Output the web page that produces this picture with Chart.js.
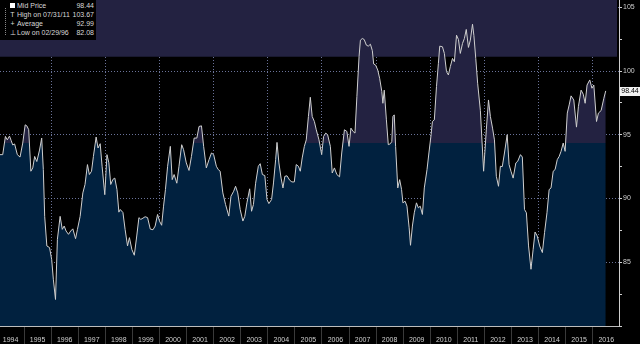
<!DOCTYPE html>
<html>
<head>
<meta charset="utf-8">
<script src="https://cdn.jsdelivr.net/npm/chart.js@4"></script>
<style>
  body { margin: 0; background: #000; }
  #wrap { position: relative; width: 640px; height: 344px; }
  canvas { background: #000; }
  #legend {
    position: absolute; left: 0; top: 0; width: 96px; height: 40px;
    background: #000; color: #d8d8d8;
    font: 7px "Liberation Sans", Arial, sans-serif;
  }
  #legend .row { position: absolute; left: 17px; width: 77px; height: 9px; line-height: 9px; color: #d8d8d8; }
  #legend .row span { position: absolute; right: 0; }
  #legend .ico { position: absolute; left: 9px; width: 7px; line-height: 9px; text-align: center; color: #d8d8d8; }
  #legend .sq { position: absolute; left: 10px; top: 3px; width: 5px; height: 5px; background: #fff; }
  #legend .tree { position: absolute; left: 5px; top: 8px; height: 27px; border-left: 1px dotted #888; }
</style>
</head>
<body>
<div id="wrap">
  <canvas id="chart" width="640" height="344"></canvas>
  <div id="legend">
    <div class="tree"></div>
    <div class="sq"></div>
    <div class="row" style="top:1px">Mid Price<span>98.44</span></div>
    <div class="ico" style="top:10px">T</div>
    <div class="row" style="top:10px">High on 07/31/11<span>103.67</span></div>
    <div class="ico" style="top:19px">+</div>
    <div class="row" style="top:19px">Average<span>92.99</span></div>
    <div class="ico" style="top:28px">⊥</div>
    <div class="row" style="top:28px">Low on 02/29/96<span>82.08</span></div>
  </div>
</div>
<script>
// Dates (decimal years) and mid prices
const dates = [
  1994.11, 1994.21, 1994.31, 1994.38, 1994.46, 1994.52, 1994.58, 1994.65, 1994.75, 1994.85,
  1994.95, 1995.04, 1995.10, 1995.17, 1995.25, 1995.32, 1995.39, 1995.47, 1995.57, 1995.65,
  1995.71, 1995.76, 1995.84, 1995.94, 1996.02, 1996.08, 1996.16, 1996.23, 1996.33, 1996.41,
  1996.48, 1996.55, 1996.64, 1996.72, 1996.80, 1996.90, 1996.97, 1997.07, 1997.17, 1997.25,
  1997.34, 1997.41, 1997.49, 1997.56, 1997.66, 1997.73, 1997.81, 1997.88, 1997.98, 1998.06,
  1998.13, 1998.20, 1998.28, 1998.35, 1998.43, 1998.50,
  1998.55, 1998.65, 1998.73, 1998.82, 1998.89, 1998.98, 1999.07, 1999.16, 1999.24, 1999.31,
  1999.39, 1999.47, 1999.56, 1999.66, 1999.76, 1999.84, 1999.93, 2000.00, 2000.08, 2000.15,
  2000.22, 2000.30, 2000.40, 2000.47, 2000.54, 2000.64, 2000.72, 2000.82, 2000.89, 2000.99,
  2001.09, 2001.18, 2001.28, 2001.38, 2001.46, 2001.55, 2001.63, 2001.73, 2001.83, 2001.92,
  2002.00, 2002.10, 2002.17, 2002.24, 2002.34, 2002.44, 2002.56, 2002.64, 2002.74, 2002.81,
  2002.89,
  2002.98, 2003.08, 2003.15, 2003.23, 2003.33, 2003.40, 2003.47, 2003.55, 2003.65, 2003.72,
  2003.80, 2003.89, 2003.97, 2004.04, 2004.14, 2004.21, 2004.29, 2004.34, 2004.41, 2004.49,
  2004.56, 2004.63, 2004.71, 2004.81, 2004.89, 2004.98, 2005.05, 2005.13, 2005.20, 2005.27,
  2005.35, 2005.42, 2005.50, 2005.57, 2005.64, 2005.72, 2005.79, 2005.89, 2005.99, 2006.06,
  2006.14, 2006.21, 2006.31, 2006.38, 2006.46, 2006.55, 2006.65, 2006.73, 2006.83, 2006.92,
  2007.00, 2007.07, 2007.15, 2007.22, 2007.29, 2007.37,
  2007.42, 2007.49, 2007.56, 2007.64, 2007.71, 2007.79, 2007.86, 2007.91, 2007.98, 2008.06,
  2008.13, 2008.21, 2008.25, 2008.30, 2008.38, 2008.45, 2008.53, 2008.58, 2008.62, 2008.67,
  2008.72, 2008.80, 2008.87, 2008.94, 2008.99, 2009.07, 2009.14, 2009.22, 2009.27, 2009.34,
  2009.41, 2009.49, 2009.56, 2009.63, 2009.71, 2009.78, 2009.88, 2009.95, 2010.03, 2010.08,
  2010.15, 2010.23, 2010.30, 2010.35, 2010.45, 2010.52, 2010.60, 2010.67, 2010.74, 2010.82,
  2010.89, 2010.97, 2011.04, 2011.11, 2011.19, 2011.26, 2011.33, 2011.41, 2011.48, 2011.56,
  2011.61, 2011.68, 2011.75,
  2011.85, 2011.97, 2012.07, 2012.15, 2012.22, 2012.30, 2012.37, 2012.44, 2012.52, 2012.59,
  2012.66, 2012.74, 2012.84, 2012.91, 2012.98, 2013.06, 2013.16, 2013.23, 2013.33, 2013.40,
  2013.48, 2013.55, 2013.63, 2013.72, 2013.80, 2013.87, 2013.95, 2014.04, 2014.14, 2014.22,
  2014.31, 2014.39, 2014.46, 2014.54, 2014.61, 2014.69, 2014.76, 2014.83, 2014.91, 2014.98,
  2015.06, 2015.13, 2015.20, 2015.30, 2015.40, 2015.47, 2015.57, 2015.65, 2015.72, 2015.79,
  2015.89, 2015.97, 2016.04, 2016.14, 2016.21, 2016.31, 2016.41, 2016.48
];
const prices = [
  93.44, 93.44, 94.87, 94.60, 94.90, 94.56, 94.20, 94.28, 93.44, 93.25,
  94.35, 95.78, 95.70, 95.40, 92.14, 92.40, 93.30, 92.90, 93.80, 94.74,
  92.27, 88.60, 86.28, 86.15, 85.20, 83.67, 82.08, 86.80, 88.60, 87.58,
  87.84, 87.45, 87.19, 87.45, 87.62, 86.85, 87.58, 88.60, 90.44, 91.10,
  92.66, 91.88, 92.14, 93.30, 94.82, 93.96, 94.30, 92.53, 90.30, 93.44,
  92.80, 91.10, 91.50, 91.60, 90.70, 88.93,
  89.14, 88.90, 87.58, 86.28, 86.93, 86.00, 85.55, 87.06, 88.50, 88.36,
  88.46, 88.57, 88.50, 87.60, 87.55, 87.84, 88.75, 88.23, 87.90, 89.40,
  90.70, 92.53, 94.09, 91.48, 91.88, 91.20, 92.53, 94.22, 93.83, 92.79,
  92.20, 93.30, 94.74, 94.74, 95.65, 95.70, 94.09, 92.40, 93.05, 93.57,
  93.44, 92.53, 92.27, 92.14, 90.44, 89.53, 88.62, 90.18, 90.57, 90.96,
  90.44,
  89.14, 88.23, 88.60, 89.66, 90.76, 89.00, 89.53, 91.20, 92.53, 92.73,
  91.88, 91.80, 89.92, 89.60, 89.92, 91.22, 93.05, 94.40, 92.79, 91.60,
  90.83, 91.74, 91.78, 91.43, 91.30, 91.30, 92.66, 92.53, 92.14, 93.18,
  94.09, 94.60, 96.43, 97.94, 96.43, 96.04, 95.39, 94.60, 93.44, 94.87,
  95.13, 95.00, 94.09, 92.00, 92.40, 91.88, 91.70, 93.57, 95.39, 95.26,
  94.09, 95.52, 95.26, 95.13, 97.99, 101.12,
  102.42, 102.55, 102.47, 102.03, 101.95, 102.10, 101.60, 100.55, 100.47, 100.08,
  99.43, 98.39, 97.47, 98.50, 96.17, 94.22, 94.30, 94.48, 96.43, 96.56,
  94.09, 90.83, 91.48, 90.70, 89.66, 89.79, 89.40, 87.70, 86.33, 87.84,
  88.88, 89.66, 89.27, 89.40, 88.75, 90.83, 92.27, 93.57, 95.00, 96.04,
  96.17, 98.78, 100.60, 101.95, 101.90, 101.38, 99.95, 99.69, 100.34, 100.99,
  100.73, 102.81, 102.47, 101.38, 102.16, 102.55, 103.26, 101.85, 102.42, 103.67,
  102.80, 100.99, 99.04,
  96.90, 92.14, 95.39, 97.73, 96.43, 95.52, 94.60, 91.74, 90.96, 92.53,
  92.50, 93.57, 95.00, 92.66, 92.14, 91.60, 92.79, 92.92, 93.44, 93.25,
  89.14, 88.88, 86.28, 84.45, 86.02, 87.37, 87.06, 86.28, 85.76, 87.32,
  88.88, 90.70, 90.83, 92.14, 92.27, 93.05, 93.30, 93.70, 94.35, 93.70,
  96.70, 97.34, 98.05, 97.73, 95.60, 97.20, 98.50, 98.18, 97.47, 98.90,
  99.30, 98.65, 98.90, 96.04, 96.70, 96.90, 97.86, 98.44
];

// Year tick labels along the bottom
const years = [];
for (let y = 1994; y <= 2016; y++) years.push(y);

// Price ticks on the right axis (labels only on multiples of 5)
const priceTicks = [80, 82.5, 85, 87.5, 90, 92.5, 95, 97.5, 100, 102.5, 105];

// Shading levels
const upperBand = 101.12;   // shaded band above this level
const fillSplit = 94.33;    // area colour changes above this level

const navy = '#01213f';
const purple = '#232241';
const gridColor = 'rgba(125,135,180,0.85)';

// Top shaded band drawn behind the line
const bandPlugin = {
    id: 'band',
    beforeDatasetsDraw(chart) {
        const { ctx, chartArea, scales } = chart;
        const yb = scales.y.getPixelForValue(upperBand);
        ctx.save();
        ctx.fillStyle = purple;
        ctx.fillRect(chartArea.left, chartArea.top, chartArea.right - chartArea.left - 2, yb - chartArea.top);
        ctx.restore();
    }
};

// Last value tag on the right axis
const lastTagPlugin = {
    id: 'lastTag',
    afterDraw(chart) {
        const { ctx, chartArea, scales } = chart;
        const v = prices[prices.length - 1];
        const y = Math.round(scales.y.getPixelForValue(v));
        ctx.save();
        ctx.fillStyle = '#f2f2f2';
        ctx.fillRect(chartArea.right + 1, y - 4, 20, 9);
        ctx.fillStyle = '#000';
        ctx.font = '7px "Liberation Sans", Arial, sans-serif';
        ctx.textBaseline = 'middle';
        ctx.textAlign = 'center';
        ctx.fillText(v.toFixed(2), chartArea.right + 11, y + 0.5);
        ctx.restore();
    }
};

const ctx = document.getElementById('chart').getContext('2d');
new Chart(ctx, {
    type: 'line',
    data: {
        datasets: [{
            label: 'Mid Price',
            data: dates.map((d, i) => ({ x: d, y: prices[i] })),
            borderColor: '#cfcfcf',
            borderWidth: 1,
            pointRadius: 0,
            tension: 0,
            fill: 'start',
            backgroundColor: function (context) {
                const chart = context.chart;
                const { chartArea, scales } = chart;
                if (!chartArea) return navy;
                const yPix = scales.y.getPixelForValue(fillSplit);
                const g = chart.ctx.createLinearGradient(0, chartArea.bottom, 0, chartArea.top);
                const stop = (chartArea.bottom - yPix) / (chartArea.bottom - chartArea.top);
                g.addColorStop(0, navy);
                g.addColorStop(stop, navy);
                g.addColorStop(stop, purple);
                g.addColorStop(1, purple);
                return g;
            }
        }]
    },
    options: {
        responsive: false,
        animation: false,
        layout: { padding: 0 },
        plugins: {
            legend: { display: false },
            tooltip: { enabled: false }
        },
        scales: {
            x: {
                type: 'linear',
                min: 1994.11,
                max: 2016.97,
                z: 1,
                afterBuildTicks: axis => { axis.ticks = years.map(v => ({ value: v })); },
                afterFit: axis => { axis.height = 18; axis.paddingLeft = 0; axis.paddingRight = 0; },
                border: { display: true, color: '#bdbdbd', width: 1, dash: [1, 2] },
                grid: {
                    color: c => (c.tick && c.tick.value % 2 === 0) ? gridColor : 'rgba(0,0,0,0)',
                    drawTicks: true,
                    tickLength: 18,
                    tickColor: '#3a3a3a',
                    tickBorderDash: []
                },
                ticks: {
                    color: '#cfcfcf',
                    font: { family: '"Liberation Sans", Arial, sans-serif', size: 7 },
                    maxRotation: 0,
                    autoSkip: false,
                    labelOffset: 13.5,
                    padding: -8,
                    callback: v => String(v)
                }
            },
            y: {
                position: 'right',
                min: 80,
                max: 105.57,
                z: 1,
                afterBuildTicks: axis => { axis.ticks = priceTicks.map(v => ({ value: v })); },
                afterFit: axis => { axis.width = 21; axis.paddingTop = 0; axis.paddingBottom = 0; },
                border: { display: true, color: '#cfcfcf', width: 1, dash: [1, 2] },
                grid: {
                    color: c => (c.tick && c.tick.value % 5 === 0 && c.tick.value > 80) ? gridColor : 'rgba(0,0,0,0)',
                    drawTicks: true,
                    tickLength: 3,
                    tickColor: '#cfcfcf',
                    tickBorderDash: []
                },
                ticks: {
                    color: '#cfcfcf',
                    padding: 1,
                    autoSkip: false,
                    font: { family: '"Liberation Sans", Arial, sans-serif', size: 7 },
                    callback: v => (v % 5 === 0 && v > 80) ? String(v) : ''
                }
            }
        }
    },
    plugins: [bandPlugin, lastTagPlugin]
});
</script>
</body>
</html>
